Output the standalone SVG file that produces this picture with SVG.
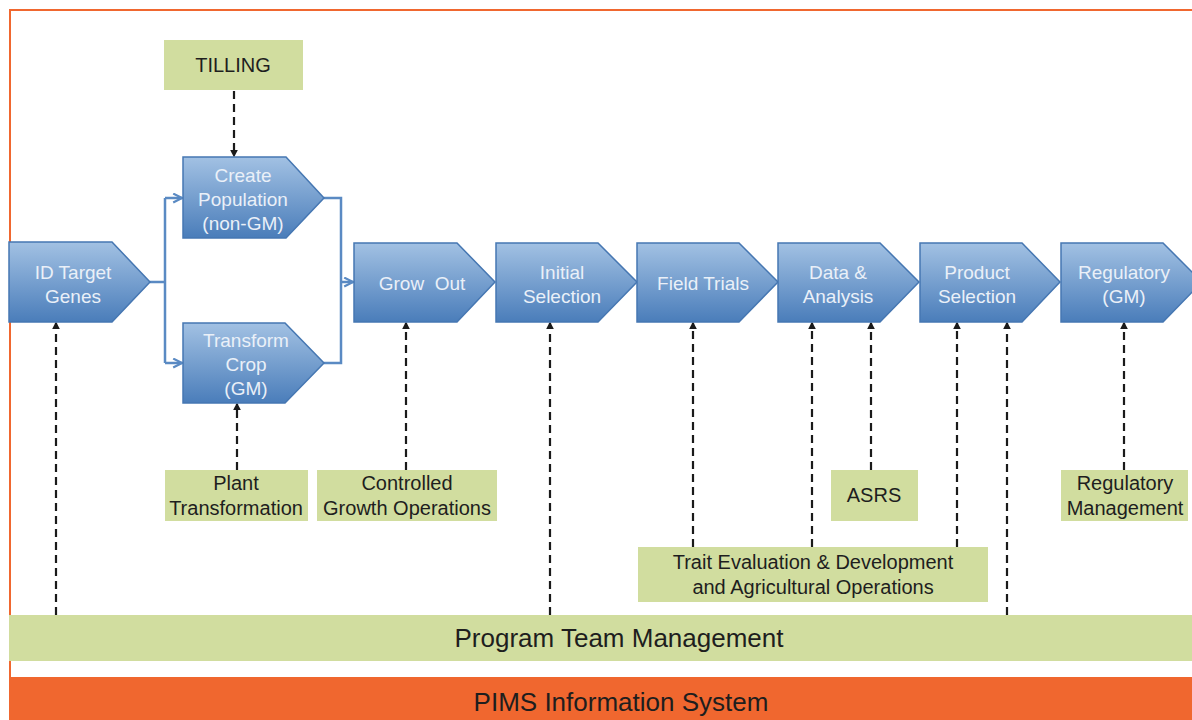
<svg xmlns="http://www.w3.org/2000/svg" width="1192" height="720" viewBox="0 0 1192 720">
<defs>
<linearGradient id="bg" x1="0" y1="0" x2="0" y2="1">
<stop offset="0" stop-color="#a2c1e3"/>
<stop offset="1" stop-color="#4a7dba"/>
</linearGradient>
<marker id="da" viewBox="0 0 10 10" refX="8" refY="5" markerWidth="8" markerHeight="8" orient="auto" markerUnits="userSpaceOnUse">
<path d="M0,0 L10,5 L0,10 z" fill="#1a1a1a"/>
</marker>
<marker id="ba" viewBox="0 0 10 10" refX="9" refY="5" markerWidth="11" markerHeight="11" orient="auto" markerUnits="userSpaceOnUse">
<path d="M1,1 L9,5 L1,9" fill="none" stroke="#5a8ac3" stroke-width="2"/>
</marker>
</defs>
<style>
.node path{fill:url(#bg);stroke:#4677b2;stroke-width:1.5}
.node text{font-family:"Liberation Sans",Arial,sans-serif;font-size:19px;fill:#eaf0f8;text-anchor:middle}
.gbox rect{fill:#d1dd9f}
.gbox text{font-family:"Liberation Sans",Arial,sans-serif;font-size:20px;fill:#1e1e1e;text-anchor:middle}
.dash{stroke:#1a1a1a;stroke-width:2.2;stroke-dasharray:8 5;fill:none}
.blue{stroke:#5a8ac3;stroke-width:2.5;fill:none}
.bar{font-family:"Liberation Sans",Arial,sans-serif;font-size:26px;fill:#1e1e1e;text-anchor:middle}
</style>
<rect x="0" y="0" width="1192" height="720" fill="#ffffff"/>
<rect x="10" y="10" width="1200" height="720" fill="none" stroke="#f0672f" stroke-width="2"/>

<g id="pims">
<rect x="9" y="677" width="1183" height="43" fill="#f0672f"/>
<text class="bar" x="621" y="711" fill="#2a1a12">PIMS Information System</text>
</g>
<g id="program-team">
<rect x="9" y="615" width="1183" height="46" fill="#d1dd9f"/>
<text class="bar" x="619" y="647">Program Team Management</text>
</g>

<g id="connectors">
<path class="blue" d="M150,282 H165 M165,198 V363 M165,198 H182" marker-end="url(#ba)"/>
<path class="blue" d="M165,363 H182" marker-end="url(#ba)"/>
<path class="blue" d="M324,198 H341 V363 H324 M341,282 H353" marker-end="url(#ba)"/>
<line class="dash" x1="234" y1="91" x2="234" y2="156" marker-end="url(#da)"/>
<line class="dash" x1="56" y1="615" x2="56" y2="323" marker-end="url(#da)"/>
<line class="dash" x1="237" y1="470" x2="237" y2="404" marker-end="url(#da)"/>
<line class="dash" x1="406" y1="470" x2="406" y2="323" marker-end="url(#da)"/>
<line class="dash" x1="550" y1="615" x2="550" y2="323" marker-end="url(#da)"/>
<line class="dash" x1="693" y1="547" x2="693" y2="323" marker-end="url(#da)"/>
<line class="dash" x1="812" y1="547" x2="812" y2="323" marker-end="url(#da)"/>
<line class="dash" x1="871" y1="470" x2="871" y2="323" marker-end="url(#da)"/>
<line class="dash" x1="957" y1="547" x2="957" y2="323" marker-end="url(#da)"/>
<line class="dash" x1="1007" y1="615" x2="1007" y2="323" marker-end="url(#da)"/>
<line class="dash" x1="1124" y1="470" x2="1124" y2="323" marker-end="url(#da)"/>
</g>

<g id="id-target" class="node">
<path d="M9,242 H112 L150,282 L112,322 H9 Z"/>
<text x="73" y="279">ID Target</text>
<text x="73" y="303">Genes</text>
</g>
<g id="create-population" class="node">
<path d="M183,157 H286 L324,198 L286,238 H183 Z"/>
<text x="243" y="182">Create</text>
<text x="243" y="206">Population</text>
<text x="243" y="230">(non-GM)</text>
</g>
<g id="transform-crop" class="node">
<path d="M183,323 H285 L324,363 L285,403 H183 Z"/>
<text x="246" y="347">Transform</text>
<text x="246" y="371">Crop</text>
<text x="246" y="395">(GM)</text>
</g>
<g id="grow-out" class="node">
<path d="M354,243 H457 L495,282 L457,322 H354 Z"/>
<text x="422" y="290" xml:space="preserve">Grow  Out</text>
</g>
<g id="initial-selection" class="node">
<path d="M496,243 H598 L637,282 L598,322 H496 Z"/>
<text x="562" y="279">Initial</text>
<text x="562" y="303">Selection</text>
</g>
<g id="field-trials" class="node">
<path d="M637,243 H739 L778,282 L739,322 H637 Z"/>
<text x="703" y="290">Field Trials</text>
</g>
<g id="data-analysis" class="node">
<path d="M778,243 H880 L919,282 L880,322 H778 Z"/>
<text x="838" y="279">Data &amp;</text>
<text x="838" y="303">Analysis</text>
</g>
<g id="product-selection" class="node">
<path d="M920,243 H1022 L1060,282 L1022,322 H920 Z"/>
<text x="977" y="279">Product</text>
<text x="977" y="303">Selection</text>
</g>
<g id="regulatory-gm" class="node">
<path d="M1061,243 H1163 L1202,282 L1163,322 H1061 Z"/>
<text x="1124" y="279">Regulatory</text>
<text x="1124" y="303">(GM)</text>
</g>

<g id="tilling" class="gbox">
<rect x="164" y="40" width="139" height="50"/>
<text x="233" y="72">TILLING</text>
</g>
<g id="plant-transformation" class="gbox">
<rect x="165" y="470" width="143" height="51"/>
<text x="236" y="490">Plant</text>
<text x="236" y="515">Transformation</text>
</g>
<g id="controlled-growth" class="gbox">
<rect x="317" y="470" width="180" height="51"/>
<text x="407" y="490">Controlled</text>
<text x="407" y="515">Growth Operations</text>
</g>
<g id="asrs" class="gbox">
<rect x="831" y="470" width="87" height="51"/>
<text x="874" y="502">ASRS</text>
</g>
<g id="regulatory-management" class="gbox">
<rect x="1061" y="470" width="127" height="51"/>
<text x="1125" y="490">Regulatory</text>
<text x="1125" y="515">Management</text>
</g>
<g id="trait-evaluation" class="gbox">
<rect x="638" y="547" width="350" height="55"/>
<text x="813" y="569">Trait Evaluation &amp; Development</text>
<text x="813" y="594">and Agricultural Operations</text>
</g>
</svg>
